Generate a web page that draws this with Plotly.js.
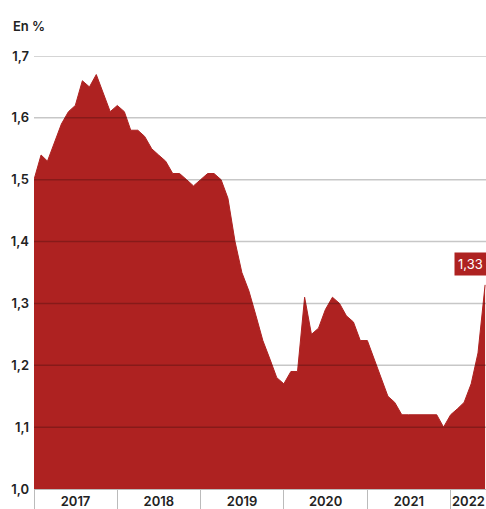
<!DOCTYPE html>
<html>
<head>
<meta charset="utf-8">
<script src="https://cdn.plot.ly/plotly-3.0.1.min.js"></script>
<style>
  html, body { margin: 0; padding: 0; background: #fff; }
  #chart { width: 486px; height: 509px; }
</style>
</head>
<body>
<div id="chart"></div>
<script>
const months = [
  '2017-01-01','2017-02-01','2017-03-01','2017-04-01','2017-05-01','2017-06-01','2017-07-01','2017-08-01','2017-09-01','2017-10-01','2017-11-01','2017-12-01',
  '2018-01-01','2018-02-01','2018-03-01','2018-04-01','2018-05-01','2018-06-01','2018-07-01','2018-08-01','2018-09-01','2018-10-01','2018-11-01','2018-12-01',
  '2019-01-01','2019-02-01','2019-03-01','2019-04-01','2019-05-01','2019-06-01','2019-07-01','2019-08-01','2019-09-01','2019-10-01','2019-11-01','2019-12-01',
  '2020-01-01','2020-02-01','2020-03-01','2020-04-01','2020-05-01','2020-06-01','2020-07-01','2020-08-01','2020-09-01','2020-10-01','2020-11-01','2020-12-01',
  '2021-01-01','2021-02-01','2021-03-01','2021-04-01','2021-05-01','2021-06-01','2021-07-01','2021-08-01','2021-09-01','2021-10-01','2021-11-01','2021-12-01',
  '2022-01-01','2022-02-01','2022-03-01','2022-04-01','2022-05-01','2022-06-01'
];
const rates = [
  1.50,1.54,1.53,1.56,1.59,1.61,1.62,1.66,1.65,1.67,1.64,1.61,
  1.62,1.61,1.58,1.58,1.57,1.55,1.54,1.53,1.51,1.51,1.50,1.49,
  1.50,1.51,1.51,1.50,1.47,1.40,1.35,1.32,1.28,1.24,1.21,1.18,
  1.17,1.19,1.19,1.31,1.25,1.26,1.29,1.31,1.30,1.28,1.27,1.24,
  1.24,1.21,1.18,1.15,1.14,1.12,1.12,1.12,1.12,1.12,1.12,1.10,
  1.12,1.13,1.14,1.17,1.22,1.33
];
const yearLabels = ['2017','2018','2019','2020','2021','2022'];
const yearLabelPos = ['2017-07-02','2018-07-02','2019-07-02','2020-07-02','2021-07-02','2022-03-20'];
const yearStarts = ['2017-01-01','2018-01-01','2019-01-01','2020-01-01','2021-01-01','2022-01-01'];
const yTicks = [1.0,1.1,1.2,1.3,1.4,1.5,1.6,1.7];
const unitLabel = 'En %';

const red = '#ae2221';
const font = {family: 'Inter, Roboto, sans-serif', size: 13, color: '#222', weight: 600};

const lastX = months[months.length - 1];
const lastY = rates[rates.length - 1];

const shapes = yTicks.filter(v => v > yTicks[0]).map(v => ({
  type: 'line', xref: 'paper', yref: 'y', x0: 0, x1: 1, y0: v, y1: v,
  layer: 'above', line: {color: 'rgba(0,0,0,0.22)', width: 1.5}
}));

const trace = {
  x: months, y: rates, type: 'scatter', mode: 'lines',
  fill: 'tozeroy', fillcolor: red, line: {color: red, width: 1},
  hoverinfo: 'skip'
};

const layout = {
  width: 486, height: 509,
  margin: {l: 34, r: 0, t: 56, b: 20},
  paper_bgcolor: '#fff', plot_bgcolor: '#fff',
  separators: ', ',
  showlegend: false,
  font: font,
  xaxis: {
    type: 'date',
    range: ['2017-01-01', '2022-06-05'],
    tickmode: 'array', tickvals: yearLabelPos, ticktext: yearLabels,
    ticks: '', showgrid: false, zeroline: false,
    showline: true, linecolor: '#bbb', linewidth: 1,
    tickfont: font, ticklabeloverflow: 'allow',
    minor: {tickmode: 'array', tickvals: yearStarts, ticks: 'outside', ticklen: 19, tickcolor: '#bbb', tickwidth: 1, showgrid: false}
  },
  yaxis: {
    range: [1.0, 1.7],
    tickmode: 'array', tickvals: yTicks, tickformat: '.1f',
    showgrid: false, zeroline: false, showline: false,
    ticks: '', tickfont: font, ticklabelstandoff: 4
  },
  shapes: shapes,
  annotations: [
    {xref: 'paper', yref: 'paper', x: -0.05, y: 1, xanchor: 'left', yanchor: 'bottom',
     yshift: 20, text: unitLabel, showarrow: false, font: font},
    {x: lastX, y: lastY, xref: 'x', yref: 'y', text: String(lastY).replace('.', ','),
     showarrow: false, xanchor: 'left', yanchor: 'bottom', xshift: -31, yshift: 9,
     bgcolor: red, borderpad: 3,
     font: {family: 'Inter, Roboto, sans-serif', size: 13, color: '#fff', weight: 400}}
  ]
};

Plotly.newPlot('chart', [trace], layout, {displayModeBar: false, staticPlot: true});
</script>
</body>
</html>
